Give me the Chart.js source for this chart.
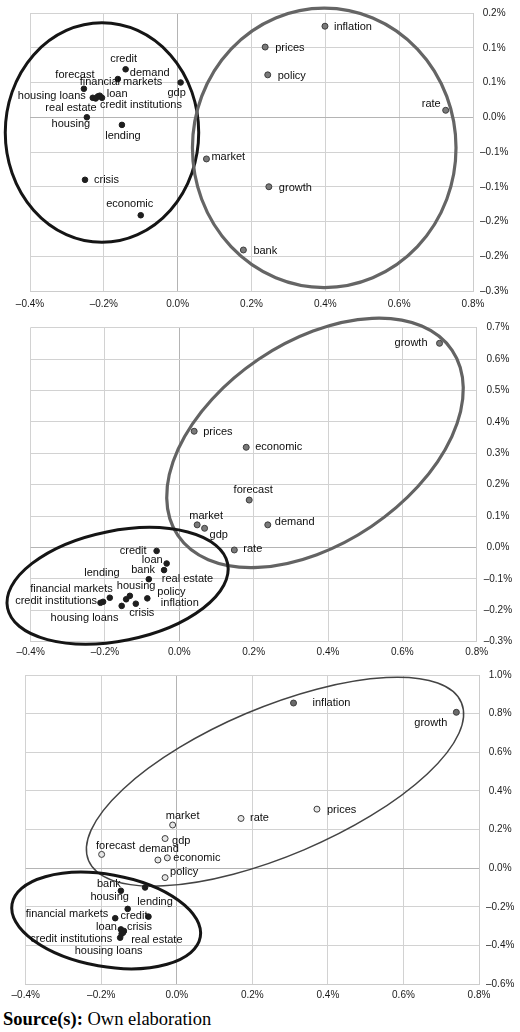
<!DOCTYPE html>
<html>
<head>
<meta charset="utf-8">
<script src="https://cdn.jsdelivr.net/npm/chart.js@4.4.0/dist/chart.umd.min.js"></script>
<style>
  html, body { margin: 0; padding: 0; background: #fff; }
  body { width: 520px; height: 1032px; position: relative; overflow: hidden; }
  .panel { position: absolute; left: 0; width: 520px; }
  #source {
    position: absolute; left: 3px; top: 1009px;
    font-family: "Liberation Serif", "Times New Roman", serif;
    font-size: 18.5px; color: #000; white-space: nowrap;
  }
</style>
</head>
<body>
<div class="panel" style="top:0;height:314px"><canvas id="chart1" width="520" height="314"></canvas></div>
<div class="panel" style="top:314px;height:348px"><canvas id="chart2" width="520" height="348"></canvas></div>
<div class="panel" style="top:662px;height:346px"><canvas id="chart3" width="520" height="346"></canvas></div>
<div id="source"><b>Source(s):</b> Own elaboration</div>

<script>
// axis ticks
const xTickValues = [-0.4, -0.2, 0, 0.2, 0.4, 0.6, 0.8];
const xTickLabels = ['–0.4%', '–0.2%', '0.0%', '0.2%', '0.4%', '0.6%', '0.8%'];

const y1TickValues = [-0.25, -0.2, -0.15, -0.1, -0.05, 0, 0.05, 0.1, 0.15];
const y1TickLabels = ['–0.3%', '–0.2%', '–0.2%', '–0.1%', '–0.1%', '0.0%', '0.1%', '0.1%', '0.2%'];
const y2TickValues = [-0.3, -0.2, -0.1, 0, 0.1, 0.2, 0.3, 0.4, 0.5, 0.6, 0.7];
const y2TickLabels = ['–0.3%', '–0.2%', '–0.1%', '0.0%', '0.1%', '0.2%', '0.3%', '0.4%', '0.5%', '0.6%', '0.7%'];
const y3TickValues = [-0.6, -0.4, -0.2, 0, 0.2, 0.4, 0.6, 0.8, 1.0];
const y3TickLabels = ['–0.6%', '–0.4%', '–0.2%', '0.0%', '0.2%', '0.4%', '0.6%', '0.8%', '1.0%'];

// panel 1
const p1BlackTerms = ['credit', 'demand', 'forecast', 'financial markets', 'housing loans', 'real estate', 'loan',
  'credit institutions', 'gdp', 'housing', 'lending', 'crisis', 'economic'];
const p1BlackX = [-0.141, -0.162, -0.254, -0.216, -0.230, -0.222, -0.211, -0.205, 0.008, -0.246, -0.151, -0.251, -0.100];
const p1BlackY = [0.069, 0.055, 0.041, 0.030, 0.028, 0.027, 0.031, 0.028, 0.050, 0.000, -0.011, -0.090, -0.141];
const p1GrayTerms = ['market', 'inflation', 'prices', 'policy', 'rate', 'growth', 'bank'];
const p1GrayX = [0.078, 0.399, 0.237, 0.244, 0.726, 0.247, 0.178];
const p1GrayY = [-0.060, 0.131, 0.101, 0.061, 0.010, -0.100, -0.191];

// panel 2
const p2GrayTerms = ['growth', 'prices', 'economic', 'forecast', 'market', 'gdp', 'demand', 'rate'];
const p2GrayX = [0.700, 0.040, 0.180, 0.188, 0.048, 0.068, 0.238, 0.148];
const p2GrayY = [0.650, 0.370, 0.319, 0.151, 0.072, 0.061, 0.072, -0.008];
const p2BlackTerms = ['credit', 'loan', 'bank', 'real estate', 'lending', 'housing', 'policy', 'inflation', 'crisis',
  'financial markets', 'credit institutions', 'housing loans'];
const p2BlackX = [-0.061, -0.034, -0.041, -0.082, -0.155, -0.143, -0.086, -0.133, -0.117, -0.187, -0.205, -0.212];
const p2BlackY = [-0.011, -0.051, -0.072, -0.101, -0.186, -0.165, -0.162, -0.154, -0.179, -0.160, -0.173, -0.176];

// panel 3
const p3GrayTerms = ['inflation', 'growth', 'prices', 'rate', 'market', 'gdp', 'forecast', 'demand', 'economic', 'policy'];
const p3GrayX = [0.309, 0.740, 0.371, 0.170, -0.011, -0.031, -0.199, -0.050, -0.025, -0.031];
const p3GrayY = [0.855, 0.807, 0.306, 0.258, 0.224, 0.154, 0.072, 0.043, 0.054, -0.048];
const p3BlackTerms = ['bank', 'lending', 'housing', 'credit', 'financial markets', 'loan', 'crisis', 'real estate',
  'housing loans', 'credit institutions'];
const p3BlackX = [-0.148, -0.084, -0.130, -0.075, -0.163, -0.148, -0.140, -0.142, -0.146, -0.150];
const p3BlackY = [-0.116, -0.099, -0.210, -0.250, -0.258, -0.316, -0.324, -0.332, -0.339, -0.359];

// label placement: [anchor, dx, dy]  l = text starts at dx, r = text ends at dx, c = centred
const p1BlackPos = [['c', -2, -10], ['l', 12, -6], ['c', -9, -14], ['c', 23, -14], ['r', -7, -2], ['r', 1, 9],
  ['l', 7, -2], ['l', -2, 7], ['c', -4, 10], ['c', -16, 7], ['c', 1, 11], ['l', 9, 0], ['c', -11, -11]];
const p1GrayPos = [['l', 5, -2], ['l', 9, 1], ['l', 10, 1], ['l', 10, 1], ['r', -5, -6], ['l', 10, 1], ['l', 10, 1]];
const p2GrayPos = [['r', -12, 0], ['l', 9, 1], ['l', 9, 0], ['c', 4, -10], ['c', 9, -9], ['l', 5, 7], ['l', 7, -3], ['l', 9, -1]];
const p2BlackPos = [['r', -10, 0], ['r', -4, -4], ['r', -9, 0], ['l', 13, 0], ['r', -2, -33], ['c', 10, -13],
  ['l', 10, -6], ['l', 31, 7], ['c', 6, 9], ['r', 3, -9], ['r', -6, -1], ['c', -16, 15]];
const p3GrayPos = [['l', 19, 0], ['r', -9, 11], ['l', 10, 1], ['l', 9, 0], ['c', 10, -9], ['l', 7, 2], ['c', 14, -8],
  ['c', 1, -11], ['l', 6, 0], ['l', 5, -6]];
const p3BlackPos = [['c', -12, -7], ['c', 10, 15], ['c', -18, -12], ['r', -1, -1], ['r', -7, -4], ['r', -4, -2],
  ['l', 3, -4], ['l', 8, 7], ['c', -13, 17], ['r', -8, 1]];

const labelFont = '11px "Liberation Sans", Arial, sans-serif';
const tickFont = { family: '"Liberation Sans", Arial, sans-serif', size: 10 };

const pts = (xs, ys) => xs.map((x, i) => ({ x: x, y: ys[i] }));

// cluster ellipses, in data units, drawn through the scales
const ellipsePlugin = {
  id: 'clusterEllipses',
  beforeDatasetsDraw(chart, args, opts) {
    const ctx = chart.ctx;
    const xs = chart.scales.x, ys = chart.scales.y;
    const xUnit = Math.abs(xs.getPixelForValue(1) - xs.getPixelForValue(0));
    const yUnit = Math.abs(ys.getPixelForValue(1) - ys.getPixelForValue(0));
    (opts.shapes || []).forEach(e => {
      ctx.save();
      ctx.beginPath();
      ctx.ellipse(xs.getPixelForValue(e.cx), ys.getPixelForValue(e.cy), e.rx * xUnit, e.ry * yUnit,
        e.angle * Math.PI / 180, 0, Math.PI * 2);
      ctx.strokeStyle = e.color;
      ctx.lineWidth = e.width;
      ctx.stroke();
      ctx.restore();
    });
  }
};

const termLabelPlugin = {
  id: 'termLabels',
  afterDatasetsDraw(chart) {
    const ctx = chart.ctx;
    ctx.save();
    ctx.font = labelFont;
    ctx.fillStyle = '#0d0d0d';
    ctx.textBaseline = 'middle';
    chart.data.datasets.forEach((ds, di) => {
      const meta = chart.getDatasetMeta(di);
      meta.data.forEach((pt, i) => {
        const p = ds.labelPos[i];
        ctx.textAlign = p[0] === 'l' ? 'left' : p[0] === 'r' ? 'right' : 'center';
        ctx.fillText(ds.terms[i], pt.x + p[1], pt.y + p[2]);
      });
    });
    ctx.restore();
  }
};

const gridColor = c => (c.tick && c.tick.value === 0) ? '#b4b4b4' : '#d2d2d2';

function makeScales(yVals, yLabels, axisW, xH, xPad) {
  return {
    x: {
      type: 'linear', min: -0.4, max: 0.8,
      afterBuildTicks: s => { s.ticks = xTickValues.map(v => ({ value: v })); },
      afterFit: s => { s.height = xH; },
      ticks: { callback: (v, i) => xTickLabels[i], font: tickFont, color: '#1a1a1a', padding: xPad, maxRotation: 0, autoSkip: false },
      grid: { color: gridColor, drawTicks: false },
      border: { color: '#cccccc' }
    },
    y: {
      type: 'linear', position: 'right',
      min: yVals[0], max: yVals[yVals.length - 1],
      afterBuildTicks: s => { s.ticks = yVals.map(v => ({ value: v })); },
      afterFit: s => { s.width = axisW; },
      ticks: { callback: (v, i) => yLabels[i], font: tickFont, color: '#1a1a1a', padding: 7, crossAlign: 'center', autoSkip: false },
      grid: { color: gridColor, drawTicks: false },
      border: { color: '#cccccc' }
    }
  };
}

function blackSet(terms, xs, ys, pos) {
  return {
    data: pts(xs, ys), terms: terms, labelPos: pos,
    pointRadius: 2.8, pointBackgroundColor: '#1e1e1e', pointBorderColor: '#1e1e1e', pointBorderWidth: 1
  };
}
function graySet(terms, xs, ys, pos, fill) {
  return {
    data: pts(xs, ys), terms: terms, labelPos: pos,
    pointRadius: 3, pointBackgroundColor: fill, pointBorderColor: '#3c3c3c', pointBorderWidth: 1
  };
}

function makeChart(id, datasets, scales, padding, shapes) {
  return new Chart(document.getElementById(id), {
    type: 'scatter',
    data: { datasets: datasets },
    options: {
      responsive: false,
      animation: false,
      layout: { padding: padding },
      scales: scales,
      plugins: {
        legend: { display: false },
        tooltip: { enabled: false },
        clusterEllipses: { shapes: shapes }
      }
    },
    plugins: [ellipsePlugin, termLabelPlugin]
  });
}

makeChart('chart1',
  [blackSet(p1BlackTerms, p1BlackX, p1BlackY, p1BlackPos), graySet(p1GrayTerms, p1GrayX, p1GrayY, p1GrayPos, '#7a7a7a')],
  makeScales(y1TickValues, y1TickLabels, 47, 23, 7),
  { left: 30, top: 8, right: 0, bottom: 0 },
  [
    { cx: -0.205, cy: -0.022, rx: 0.262, ry: 0.158, angle: 0, color: '#151515', width: 3 },
    { cx: 0.397, cy: -0.044, rx: 0.357, ry: 0.201, angle: 0, color: '#656565', width: 3.2 }
  ]);

makeChart('chart2',
  [graySet(p2GrayTerms, p2GrayX, p2GrayY, p2GrayPos, '#7a7a7a'), blackSet(p2BlackTerms, p2BlackX, p2BlackY, p2BlackPos)],
  makeScales(y2TickValues, y2TickLabels, 43.3, 20.3, 5),
  { left: 30.6, top: 13.6, right: 0, bottom: 0 },
  [
    { cx: 0.365, cy: 0.333, rx: 0.445, ry: 0.321, angle: -34, color: '#636363', width: 3.2 },
    { cx: -0.166, cy: -0.122, rx: 0.302, ry: 0.175, angle: -11.4, color: '#151515', width: 3 }
  ]);

makeChart('chart3',
  [graySet(p3GrayTerms, p3GrayX, p3GrayY, p3GrayPos,
    p3GrayTerms.map(t => (t === 'inflation' || t === 'growth') ? '#6a6a6a' : '#e6e6e6')),
   blackSet(p3BlackTerms, p3BlackX, p3BlackY, p3BlackPos)],
  makeScales(y3TickValues, y3TickLabels, 41, 23.7, 5),
  { left: 25.7, top: 10.3, right: 0, bottom: 0 },
  [
    { cx: 0.260, cy: 0.448, rx: 0.536, ry: 0.383, angle: -23, color: '#444', width: 1.5 },
    { cx: -0.187, cy: -0.270, rx: 0.253, ry: 0.238, angle: 10, color: '#151515', width: 3 }
  ]);
</script>
</body>
</html>
